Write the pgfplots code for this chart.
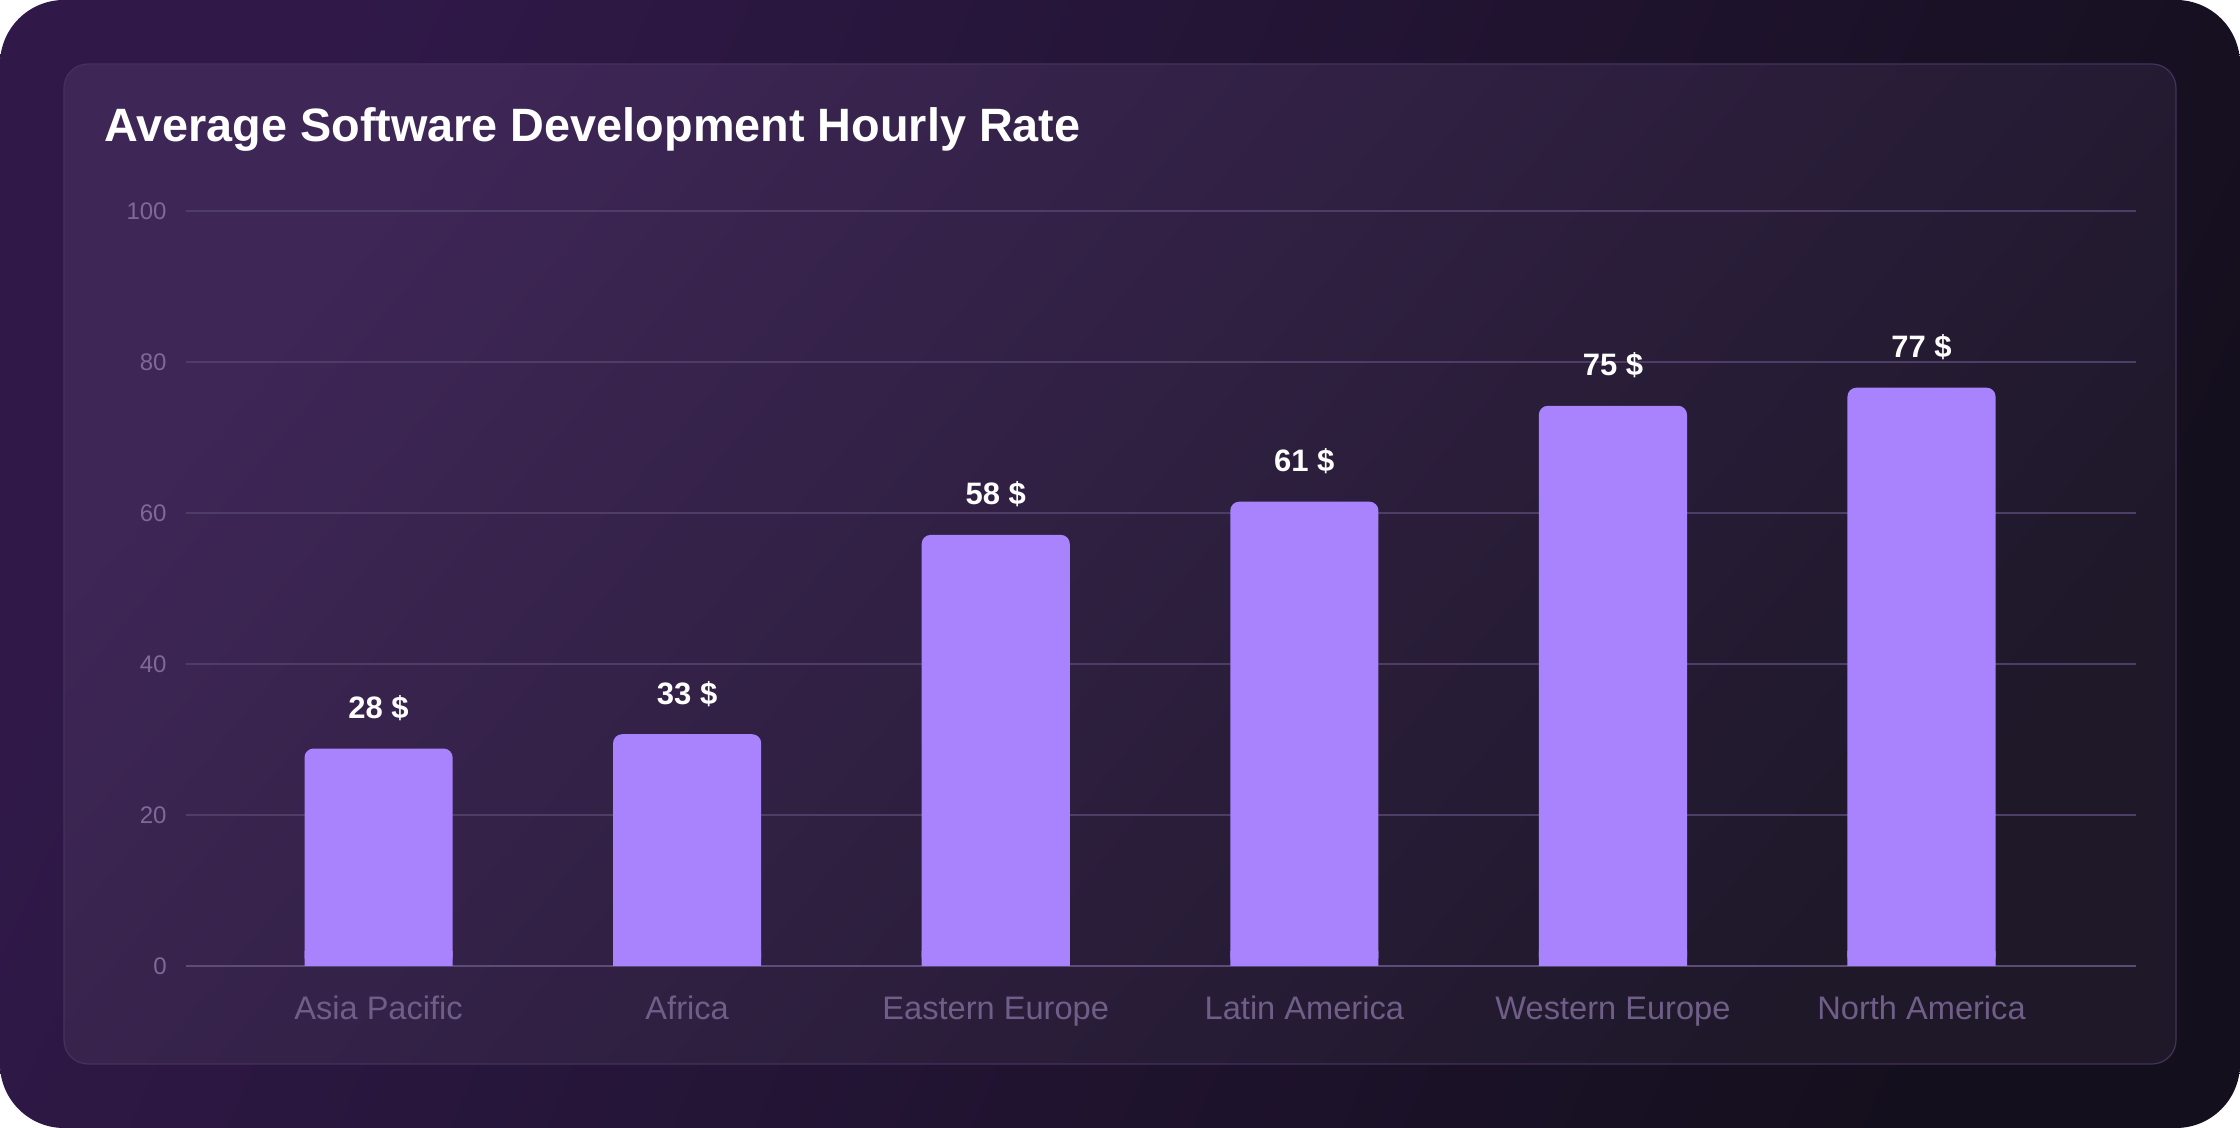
\documentclass[border=0pt]{standalone}
\usepackage{fontspec}
\setmainfont{Liberation Sans}
\usepackage{pgfplots}
\pgfplotsset{compat=1.18}
\usepackage{pgfplotstable}
\definecolor{barc}{HTML}{A983FD}
\definecolor{bgA}{HTML}{301949}
\definecolor{bgB}{HTML}{140F1D}
\definecolor{pA}{HTML}{3E2656}
\definecolor{pB}{HTML}{1E1829}
\definecolor{pborder}{HTML}{45325C}
\definecolor{gridc}{HTML}{4E3D66}
\definecolor{zeroc}{HTML}{5E4C78}
\definecolor{ylab}{HTML}{7E6A98}
\definecolor{xlab}{HTML}{6F5E88}

\pgfplotstableread{
x y lab
0 28.8 28
1 30.7 33
2 57.1 58
3 61.5 61
4 74.2 75
5 76.6 77
}\rates

\begin{document}
\begin{tikzpicture}[x=1pt,y=1pt]
\useasboundingbox (0,0) rectangle (1120,564);
\fill[white] (0,0) rectangle (1120,564);
\shade[rounded corners=32pt, top color=bgA, bottom color=bgB, shading angle=65] (0,0) rectangle (1120,564);
\shade[rounded corners=12pt, top color=pA, bottom color=pB, shading angle=50] (32,32) rectangle (1088,532);
\draw[pborder, line width=0.6pt, rounded corners=12pt] (32,32) rectangle (1088,532);
\node[anchor=base west, font=\bfseries\fontsize{23.4}{28}\selectfont, text=white, inner sep=0pt] at (52,493) {Average Software Development Hourly Rate};
\begin{axis}[
  at={(93pt,81pt)}, anchor=south west,
  scale only axis, width=975pt, height=377.5pt,
  xmin=-0.624, xmax=5.695, ymin=0, ymax=100,
  ybar,
  ytick={20,40,60,80,100},
  extra y ticks={0},
  extra y tick style={grid style={zeroc, line width=1pt}},
  ymajorgrids,
  grid style={gridc, line width=0.7pt},
  axis line style={draw=none},
  major tick length=0pt,
  tick style={draw=none},
  xtick={0,1,2,3,4,5},
  xticklabels={Asia Pacific, Africa, Eastern Europe, Latin America, Western Europe, North America},
  xticklabel style={font=\fontsize{16.3}{18}\selectfont, text=xlab, anchor=base, inner sep=0pt, yshift=-27pt},
  yticklabel style={font=\fontsize{12}{14}\selectfont, text=ylab, anchor=east, inner sep=0pt, xshift=-9.5pt},
  /pgf/number format/assume math mode=true,
  clip=false,
]
\addplot[fill=barc, draw=none, bar width=0.48, bar shift=0pt, rounded corners=4.5pt,
  point meta=explicit symbolic,
  nodes near coords={\pgfplotspointmeta~\$},
  nodes near coords style={font=\bfseries\fontsize{15.5}{18}\selectfont, text=white, anchor=base, inner sep=0pt, yshift=15pt}]
  table[x=x, y=y, meta=lab] {\rates};
% square off the bottom corners of the bars
\addplot[fill=barc, draw=none, bar width=0.48, bar shift=0pt]
  table[x=x, y expr=2] {\rates};
\end{axis}
\end{tikzpicture}
\end{document}
